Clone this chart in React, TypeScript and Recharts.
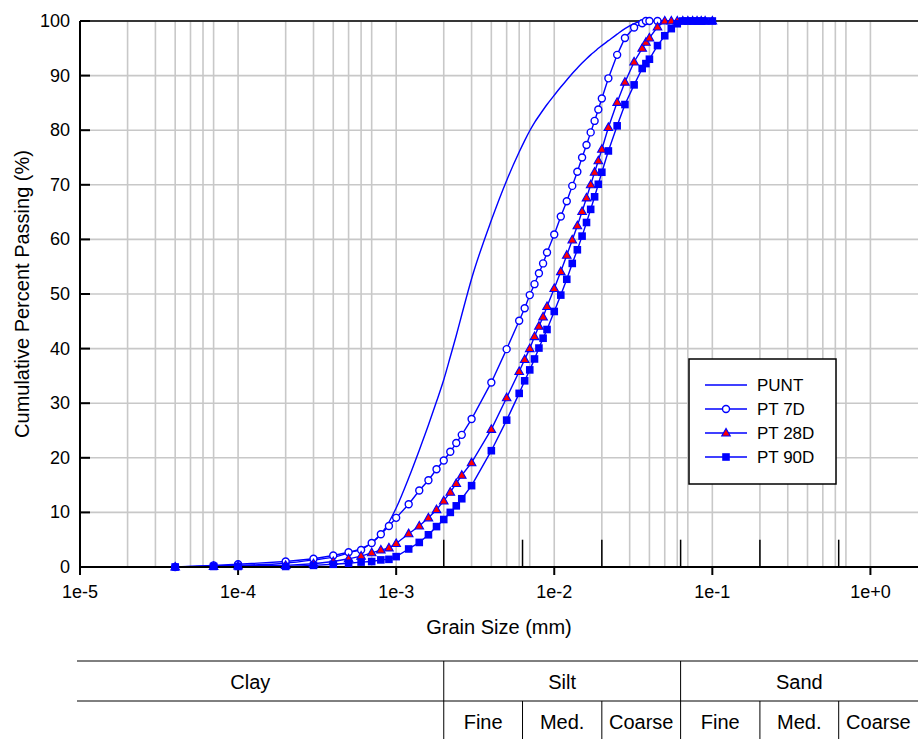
import React from 'react';
import { LineChart, Line, XAxis, YAxis, CartesianGrid, ReferenceLine } from 'recharts';

// grain sizes (mm), shared by every series
const SIZES = [
    4e-5, 7e-5, 1e-4, 2e-4, 3e-4, 4e-4, 5e-4, 6e-4, 7e-4, 8e-4, 9e-4,
    1e-3, 1.2e-3, 1.4e-3, 1.6e-3, 1.8e-3, 2e-3, 2.2e-3, 2.4e-3, 2.6e-3, 3e-3,
    4e-3, 5e-3, 6e-3, 6.5e-3, 7e-3, 7.5e-3, 8e-3, 8.5e-3, 9e-3,
    1e-2, 1.1e-2, 1.2e-2, 1.3e-2, 1.4e-2, 1.5e-2, 1.6e-2, 1.7e-2, 1.8e-2, 1.9e-2,
    2e-2, 2.2e-2, 2.5e-2, 2.8e-2, 3.2e-2, 3.6e-2, 3.8e-2, 4e-2, 4.5e-2,
    5e-2, 5.5e-2, 6e-2, 6.5e-2, 7e-2, 7.5e-2, 8e-2, 8.5e-2, 9e-2, 1e-1,
];

const PUNT = [
    0, 0.2, 0.3, 0.7, 1.3, 1.8, 2.6, 3.4, 4.4, 6.0, 8.2,
    10.8, 16.3, 21.4, 26.0, 30.3, 34.3, 38.5, 42.4, 46.2, 52.8,
    63.5, 70.8, 76.0, 78.1, 79.9, 81.4, 82.6, 83.7, 84.7,
    86.4, 87.9, 89.2, 90.4, 91.4, 92.3, 93.1, 93.8, 94.4, 95.0,
    95.5, 96.4, 97.6, 98.6, 99.5, 100, 100, 100, 100,
    100, 100, 100, 100, 100, 100, 100, 100, 100, 100,
];

const PT_7D = [
    0, 0.3, 0.5, 1.0, 1.5, 2.1, 2.7, 3.1, 4.4, 6.0, 7.5,
    9.0, 11.5, 14.0, 15.9, 17.9, 19.5, 21.1, 22.7, 24.2, 27.1,
    33.8, 39.9, 45.1, 47.4, 49.8, 51.8, 53.8, 55.6, 57.6,
    60.9, 64.2, 67.0, 69.8, 72.4, 75.0, 77.3, 79.6, 81.7, 83.8,
    85.8, 89.5, 93.8, 96.9, 98.8, 99.6, 100, 100, 100,
    null, null, null, null, null, null, null, null, null, null,
];

const PT_28D = [
    0, 0.1, 0.2, 0.3, 0.6, 1.0, 1.5, 2.0, 2.6, 3.1, 3.5,
    4.3, 6.1, 7.5, 9.0, 10.5, 12.1, 13.7, 15.3, 16.8, 19.1,
    25.2, 31.0, 35.8, 38.0, 40.0, 42.2, 44.1, 45.8, 47.7,
    51.0, 54.1, 57.1, 59.9, 62.5, 65.1, 67.6, 70.0, 72.3, 74.4,
    76.5, 80.5, 85.1, 88.8, 92.5, 95.0, 96.1, 96.9, 98.9,
    100, 100, 100, 100, 100, 100, 100, 100, 100, 100,
];

const PT_90D = [
    0, 0.1, 0.1, 0.1, 0.3, 0.5, 0.7, 0.9, 1.0, 1.3, 1.4,
    1.9, 3.3, 4.5, 5.9, 7.4, 8.7, 10.0, 11.2, 12.5, 14.9,
    21.3, 26.9, 31.8, 34.1, 36.1, 38.1, 40.1, 41.9, 43.5,
    46.8, 49.8, 52.7, 55.6, 58.1, 60.6, 63.1, 65.5, 67.8, 70.1,
    72.3, 76.2, 80.8, 84.7, 88.3, 91.3, 92.2, 93.0, 95.5,
    97.3, 98.6, 99.5, 100, 100, 100, 100, 100, 100, 100,
];

const X_TICKS = [1e-5, 1e-4, 1e-3, 1e-2, 1e-1, 1];
const X_TICK_LABELS = ['1e-5', '1e-4', '1e-3', '1e-2', '1e-1', '1e+0'];
const Y_TICKS = [0, 10, 20, 30, 40, 50, 60, 70, 80, 90, 100];
const MANTISSAS = [1, 2, 3, 4, 5, 6, 7, 8, 9];

// soil class boundaries (mm)
const BOUNDARIES = [0.002, 0.0063, 0.02, 0.063, 0.2, 0.63];
const MAIN_CLASSES = ['Clay', 'Silt', 'Sand'];
const SUB_CLASSES = ['Fine', 'Med.', 'Coarse', 'Fine', 'Med.', 'Coarse'];

const SERIES_NAMES = ['PUNT', 'PT 7D', 'PT 28D', 'PT 90D'];

const data = SIZES.map((size, i) => ({
    size,
    punt: PUNT[i],
    pt7: PT_7D[i],
    pt28: PT_28D[i],
    pt90: PT_90D[i],
}));

const gridX: number[] = [];
X_TICKS.slice(0, -1).forEach(d => MANTISSAS.forEach(m => gridX.push(m * d)));
gridX.push(1);

const FONT = '"Liberation Sans", Arial, Helvetica, sans-serif';
const BLUE = '#0000ff';
const W = 920;
const H = 739;
const X_MIN = 1e-5;
const X_MAX = 2;
const PLOT_LEFT = 80;
const PLOT_RIGHT = 918;
const PLOT_TOP = 21;
const PLOT_BOTTOM = 567;

// same log mapping as the chart's x axis, used for the class table below it
const px = (v: number) =>
    PLOT_LEFT + (Math.log10(v) - Math.log10(X_MIN)) / (Math.log10(X_MAX) - Math.log10(X_MIN)) * (PLOT_RIGHT - PLOT_LEFT);

const CircleDot = (props: any) => {
    const { cx, cy, index } = props;
    if (cx == null || cy == null || props.value == null) return <g key={`c-${index}`} />;
    return <circle key={`c-${index}`} cx={cx} cy={cy} r={3.5} fill="#fff" stroke={BLUE} strokeWidth={1.4} />;
};

const TriangleDot = (props: any) => {
    const { cx, cy, index } = props;
    if (cx == null || cy == null) return <g key={`t-${index}`} />;
    return (
        <polygon
            key={`t-${index}`}
            points={`${cx},${cy - 4.6} ${cx - 4.3},${cy + 3} ${cx + 4.3},${cy + 3}`}
            fill="#ff0000"
            stroke={BLUE}
            strokeWidth={1.1}
        />
    );
};

const SquareDot = (props: any) => {
    const { cx, cy, index } = props;
    if (cx == null || cy == null) return <g key={`s-${index}`} />;
    return <rect key={`s-${index}`} x={cx - 3.8} y={cy - 3.8} width={7.6} height={7.6} fill={BLUE} />;
};

const LeftTick = (props: any) => {
    const { x, y, payload } = props;
    return (
        <g>
            <text x={x} y={y} textAnchor="end" dominantBaseline="central" fontSize={18} fontFamily={FONT} fill="#000">
                {payload.value}
            </text>
            <line x1={x + 10} x2={x + 20} y1={y} y2={y} stroke="#000" strokeWidth={2} />
        </g>
    );
};

const RightTick = (props: any) => {
    const { x, y } = props;
    return <line x1={x - 10} x2={x} y1={y} y2={y} stroke="#000" strokeWidth={2} />;
};

const legendMarkers = [
    null,
    <circle cx={0} cy={0} r={3.5} fill="#fff" stroke={BLUE} strokeWidth={1.4} />,
    <polygon points="0,-4.6 -4.3,3 4.3,3" fill="#ff0000" stroke={BLUE} strokeWidth={1.1} />,
    <rect x={-3.8} y={-3.8} width={7.6} height={7.6} fill={BLUE} />,
];

export default function App() {
    const b = BOUNDARIES.map(px);
    const rowTop = 661;
    const rowMid = 701;
    const subCenters = b.map((v, i) => (v + (i < b.length - 1 ? b[i + 1] : PLOT_RIGHT)) / 2);

    return (
        <div style={{ position: 'absolute', left: 0, top: 0, width: W, height: H, background: '#fff', fontFamily: FONT }}>
            <LineChart width={W} height={H} data={data} margin={{ top: PLOT_TOP, right: W - PLOT_RIGHT, bottom: 0, left: 0 }}>
                <CartesianGrid
                    stroke="#c8c8c8"
                    strokeWidth={1.6}
                    verticalValues={gridX}
                    horizontalValues={Y_TICKS}
                />
                <XAxis
                    dataKey="size"
                    type="number"
                    scale="log"
                    domain={[X_MIN, X_MAX]}
                    allowDataOverflow
                    ticks={X_TICKS}
                    tickFormatter={(v: number) => X_TICK_LABELS[X_TICKS.findIndex(t => Math.abs(Math.log10(t) - Math.log10(v)) < 1e-6)] ?? ''}
                    height={H - PLOT_BOTTOM}
                    tickSize={8}
                    tickMargin={10}
                    axisLine={{ stroke: '#000', strokeWidth: 2 }}
                    tickLine={{ stroke: '#000', strokeWidth: 2 }}
                    tick={{ fontSize: 18, fill: '#000', fontFamily: FONT }}
                />
                <YAxis
                    type="number"
                    domain={[0, 100]}
                    ticks={Y_TICKS}
                    width={PLOT_LEFT}
                    tickSize={0}
                    tickMargin={10}
                    tickLine={false}
                    axisLine={{ stroke: '#000', strokeWidth: 2 }}
                    tick={<LeftTick />}
                />
                <YAxis
                    yAxisId="right"
                    orientation="right"
                    type="number"
                    domain={[0, 100]}
                    ticks={Y_TICKS}
                    width={0}
                    tickSize={0}
                    tickMargin={0}
                    tickLine={false}
                    axisLine={{ stroke: '#000', strokeWidth: 2 }}
                    tick={<RightTick />}
                />
                <ReferenceLine y={100} stroke="#000" strokeWidth={1.5} />
                {BOUNDARIES.map(v => (
                    <ReferenceLine
                        key={v}
                        segment={[{ x: v, y: 0 }, { x: v, y: 5 }]}
                        stroke="#000"
                        strokeWidth={1.5}
                    />
                ))}
                <Line dataKey="punt" name="PUNT" type="monotone" stroke={BLUE} strokeWidth={1.4} dot={false} isAnimationActive={false} />
                <Line dataKey="pt7" name="PT 7D" type="linear" stroke={BLUE} strokeWidth={1.4} dot={CircleDot} activeDot={false} isAnimationActive={false} />
                <Line dataKey="pt28" name="PT 28D" type="linear" stroke={BLUE} strokeWidth={1.4} dot={TriangleDot} activeDot={false} isAnimationActive={false} />
                <Line dataKey="pt90" name="PT 90D" type="linear" stroke={BLUE} strokeWidth={1.4} dot={SquareDot} activeDot={false} isAnimationActive={false} />
            </LineChart>

            {/* axis titles, legend and soil class table */}
            <svg width={W} height={H} style={{ position: 'absolute', left: 0, top: 0, pointerEvents: 'none' }} fontFamily={FONT}>
                <text x={(PLOT_LEFT + PLOT_RIGHT) / 2} y={627} textAnchor="middle" dominantBaseline="central" fontSize={20} fill="#000">
                    Grain Size (mm)
                </text>
                <text
                    transform={`translate(22, ${(PLOT_TOP + PLOT_BOTTOM) / 2}) rotate(-90)`}
                    textAnchor="middle"
                    dominantBaseline="central"
                    fontSize={20}
                    fill="#000"
                >
                    Cumulative Percent Passing (%)
                </text>

                <g transform="translate(689, 359)">
                    <rect x={0} y={0} width={147} height={125} fill="#fff" stroke="#000" strokeWidth={1.5} />
                    {SERIES_NAMES.map((name, i) => {
                        const y = 26 + i * 24;
                        return (
                            <g key={name}>
                                <line x1={16} x2={58} y1={y} y2={y} stroke={BLUE} strokeWidth={1.4} />
                                {legendMarkers[i] && <g transform={`translate(37, ${y})`}>{legendMarkers[i]}</g>}
                                <text x={68} y={y} dominantBaseline="central" fontSize={17} fill="#000">{name}</text>
                            </g>
                        );
                    })}
                </g>

                <line x1={77} x2={PLOT_RIGHT} y1={rowTop} y2={rowTop} stroke="#000" strokeWidth={1} />
                <line x1={77} x2={PLOT_RIGHT} y1={rowMid} y2={rowMid} stroke="#000" strokeWidth={1} />
                {b.map((x, i) => (
                    <line
                        key={i}
                        x1={x}
                        x2={x}
                        y1={i % 3 === 0 ? rowTop : rowMid}
                        y2={H}
                        stroke="#000"
                        strokeWidth={1}
                    />
                ))}
                {MAIN_CLASSES.map((name, i) => {
                    const cx = i === 0 ? (77 + b[0]) / 2 - 10 : (b[(i - 1) * 3] + (i === 2 ? PLOT_RIGHT : b[3])) / 2;
                    return (
                        <text key={name} x={cx} y={682} textAnchor="middle" dominantBaseline="central" fontSize={20} fill="#000">
                            {name}
                        </text>
                    );
                })}
                {SUB_CLASSES.map((name, i) => (
                    <text key={i} x={subCenters[i]} y={722} textAnchor="middle" dominantBaseline="central" fontSize={20} fill="#000">
                        {name}
                    </text>
                ))}
            </svg>
        </div>
    );
}
